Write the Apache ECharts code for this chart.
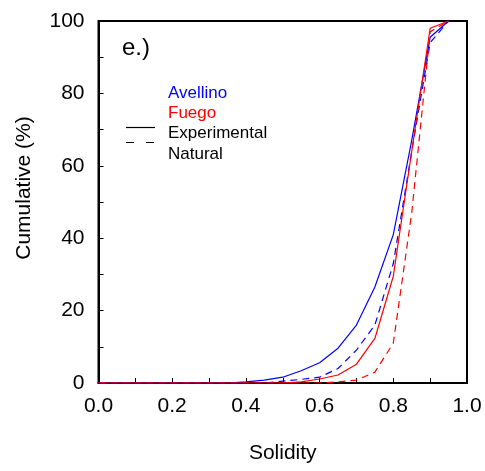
<!DOCTYPE html>
<html>
<head>
<meta charset="utf-8">
<script src="https://cdn.jsdelivr.net/npm/echarts@6/dist/echarts.min.js"></script>
<style>
html,body{margin:0;padding:0;background:#fff;}
#chart{width:485px;height:471px;}
</style>
</head>
<body>
<div id="chart"></div>
<script>
// Solidity bins
var solidity = [0,0.05,0.1,0.15,0.2,0.25,0.3,0.35,0.4,0.45,0.5,0.55,0.6,0.65,0.7,0.75,0.8,0.85,0.9,0.95];
// Cumulative (%)
var avellinoExperimental = [0,0,0,0,0,0,0,0,0.3,0.8,1.6,3.4,5.6,9.6,16,26.5,41,67,95.5,100];
var avellinoNatural      = [0,0,0,0,0,0,0,0,0,0,0.5,1.0,1.6,4,9.1,16,33,64,94,100];
var fuegoExperimental    = [0,0,0,0,0,0,0,0,0,0,0,0.3,1.1,2.2,5.2,12.3,29.5,64,98,100];
var fuegoNatural         = [0,0,0,0,0,0,0,0,0,0,0,0,0,0.3,0.8,3.0,11,47,97,100];

var xTickLabels = ['0.0','0.2','0.4','0.6','0.8','1.0'];
var yTickLabels = ['0','20','40','60','80','100'];

function pairs(ys){ return solidity.map(function(x,i){ return [x, ys[i]]; }); }

var FONT = 'Liberation Sans, Arial, sans-serif';
var chart = echarts.init(document.getElementById('chart'), null, {renderer:'canvas'});

function mkSeries(name, data, color, dashed){
  return {
    name: name, type: 'line', data: pairs(data), symbol: 'none', smooth: false,
    lineStyle: {color: color, width: 1.2, type: dashed ? [7,5] : 'solid'},
    z: 3, animation: false
  };
}

chart.setOption({
  animation: false,
  grid: {left: 98.5, right: 18, top: 21, bottom: 88, show: true, borderColor: '#000', borderWidth: 2, backgroundColor: 'transparent'},
  xAxis: {
    type: 'value', min: 0, max: 1, interval: 0.1,
    axisLine: {show: true, lineStyle: {color: '#000', width: 2}},
    axisTick: {show: true, inside: true, length: 5, lineStyle: {color: '#000', width: 1}},
    splitLine: {show: false},
    axisLabel: {
      color: '#000', fontSize: 21, fontFamily: FONT, margin: 13,
      formatter: function(v){ var k = Math.round(v*10); return k % 2 === 0 ? xTickLabels[k/2] : ''; }
    },
    name: 'Solidity', nameLocation: 'middle', nameGap: 60,
    nameTextStyle: {color: '#000', fontSize: 21, fontFamily: FONT}
  },
  yAxis: {
    type: 'value', min: 0, max: 100, interval: 10,
    axisLine: {show: true, lineStyle: {color: '#000', width: 2}},
    axisTick: {show: true, inside: true, length: 5, lineStyle: {color: '#000', width: 1}},
    splitLine: {show: false},
    axisLabel: {
      color: '#000', fontSize: 21, fontFamily: FONT, margin: 14,
      formatter: function(v){ var k = Math.round(v/10); return k % 2 === 0 ? yTickLabels[k/2] : ''; }
    }
  },
  graphic: [
    {type: 'text', x: 24, y: 188, rotation: Math.PI/2, style: {text: 'Cumulative (%)', fill: '#000', font: '21px ' + FONT, textAlign: 'center', textVerticalAlign: 'middle'}},
    {type: 'text', x: 122, y: 48, style: {text: 'e.)', fill: '#000', font: '24px ' + FONT, textAlign: 'left', textVerticalAlign: 'middle'}},
    {type: 'text', x: 168, y: 93, style: {text: 'Avellino', fill: '#0000ff', font: '17px ' + FONT, textAlign: 'left', textVerticalAlign: 'middle'}},
    {type: 'text', x: 168, y: 113, style: {text: 'Fuego', fill: '#ff0000', font: '17px ' + FONT, textAlign: 'left', textVerticalAlign: 'middle'}},
    {type: 'text', x: 168, y: 133, style: {text: 'Experimental', fill: '#000', font: '17px ' + FONT, textAlign: 'left', textVerticalAlign: 'middle'}},
    {type: 'text', x: 168, y: 154, style: {text: 'Natural', fill: '#000', font: '17px ' + FONT, textAlign: 'left', textVerticalAlign: 'middle'}},
    {type: 'line', shape: {x1: 126, y1: 127.5, x2: 155, y2: 127.5}, style: {stroke: '#000', lineWidth: 1.2}},
    {type: 'line', shape: {x1: 126, y1: 142.5, x2: 155, y2: 142.5}, style: {stroke: '#000', lineWidth: 1.2, lineDash: [8,12]}}
  ],
  series: [
    mkSeries('Avellino Experimental', avellinoExperimental, '#0000ff', false),
    mkSeries('Avellino Natural', avellinoNatural, '#0000ff', true),
    mkSeries('Fuego Experimental', fuegoExperimental, '#ff0000', false),
    mkSeries('Fuego Natural', fuegoNatural, '#ff0000', true)
  ]
});
</script>
</body>
</html>
